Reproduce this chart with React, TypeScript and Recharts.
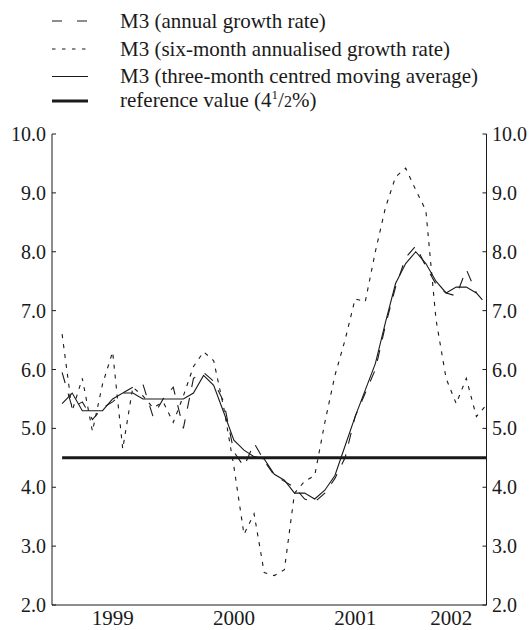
import React from "react";
import { LineChart, Line, XAxis, YAxis, ReferenceLine } from "recharts";

const FONT = '"Liberation Serif", "Times New Roman", serif';
const INK = "#1a1a1a";

// Jan 1999 - Jul 2002, one entry per month
const months = [
  "1999-01", "1999-02", "1999-03", "1999-04", "1999-05", "1999-06",
  "1999-07", "1999-08", "1999-09", "1999-10", "1999-11", "1999-12",
  "2000-01", "2000-02", "2000-03", "2000-04", "2000-05", "2000-06",
  "2000-07", "2000-08", "2000-09", "2000-10", "2000-11", "2000-12",
  "2001-01", "2001-02", "2001-03", "2001-04", "2001-05", "2001-06",
  "2001-07", "2001-08", "2001-09", "2001-10", "2001-11", "2001-12",
  "2002-01", "2002-02", "2002-03", "2002-04", "2002-05", "2002-06",
  "2002-07",
];

const annualGrowth = [
  5.95, 5.35, 5.45, 5.15, 5.35, 5.45, 5.6, 5.7, 5.75, 5.2, 5.5, 5.7,
  5.0, 5.85, 5.95, 5.8, 5.45, 4.6, 4.35, 4.75, 4.45, 4.2, 4.1, 4.0,
  3.8, 3.75, 3.9, 4.15, 4.5, 5.2, 5.6, 6.0, 6.75, 7.4, 7.9, 8.1,
  7.75, 7.45, 7.3, 7.25, 7.7, 7.3, 7.1,
];

const sixMonthAnnualised = [
  6.6, 5.3, 5.85, 4.95, 5.75, 6.3, 4.65, 5.7, 5.55, 5.35, 5.45, 5.1,
  5.55, 6.05, 6.3, 6.15, 5.35, 4.35, 3.2, 3.55, 2.55, 2.5, 2.6, 3.9,
  4.1, 4.2, 5.1, 5.9, 6.5, 7.2, 7.15, 8.0, 8.75, 9.27, 9.42, 9.05,
  8.7, 6.85, 5.85, 5.42, 5.85, 5.2, 5.4,
];

// centred average stops one month before the last observation
const threeMonthAverage = [
  5.42, 5.6, 5.3, 5.3, 5.3, 5.5, 5.6, 5.6, 5.5, 5.5, 5.5, 5.5,
  5.5, 5.6, 5.9, 5.73, 5.27, 4.8, 4.63, 4.52, 4.48, 4.22, 4.12, 3.9,
  3.9, 3.8, 3.95, 4.2, 4.7, 5.2, 5.65, 6.1, 6.8, 7.46, 7.8, 8.0,
  7.8, 7.5, 7.3, 7.4, 7.4, 7.3,
];

const referenceValue = 4.5;

const quarterTicks = [0, 3, 6, 9, 12, 15, 18, 21, 24, 27, 30, 33, 36, 39, 42];
const yearLabels = ["1999", "2000", "2001", "2002"];
const yearLabelAt = [6, 18, 30, 39.5];
const yTicks = [2, 3, 4, 5, 6, 7, 8, 9, 10];

const data = months.map((m, i) => ({
  month: m,
  t: i + 1,
  annual: annualGrowth[i],
  sixMonth: sixMonthAnnualised[i],
  avg: i < threeMonthAverage.length ? threeMonthAverage[i] : null,
}));

const legendRows = [
  { label: "M3 (annual growth rate)", dash: "10 15", width: 1.1, lineY: 21, textY: 28 },
  { label: "M3 (six-month annualised growth rate)", dash: "3.5 6.5", width: 1.1, lineY: 49, textY: 55.5 },
  { label: "M3 (three-month centred moving average)", dash: undefined, width: 1.1, lineY: 76.5, textY: 82.5 },
  { label: null, dash: undefined, width: 3, lineY: 101, textY: 106.5 },
];

const Legend = () => (
  <svg width={530} height={118} style={{ position: "absolute", left: 0, top: 0 }}>
    {legendRows.map((row, i) => (
      <g key={i}>
        <line
          x1={52}
          x2={88}
          y1={row.lineY}
          y2={row.lineY}
          stroke={INK}
          strokeWidth={row.width}
          strokeDasharray={row.dash}
        />
        <text x={120} y={row.textY} fontFamily={FONT} fontSize={21} fill={INK}>
          {row.label ?? (
            <>
              reference value (4
              <tspan fontSize={13} dy={-8}>1</tspan>
              <tspan dy={8}>/</tspan>
              <tspan fontSize={16}>2</tspan>
              %)
            </>
          )}
        </text>
      </g>
    ))}
  </svg>
);

const tickStyle = { fontFamily: FONT, fontSize: 20, fill: INK };

export default function App() {
  return (
    <div style={{ position: "absolute", left: 0, top: 0, width: 530, height: 630, background: "#fff" }}>
      <LineChart
        width={530}
        height={630}
        data={data}
        margin={{ top: 134, right: 0, bottom: 0, left: 0 }}
      >
        <XAxis
          xAxisId="q"
          dataKey="t"
          type="number"
          domain={[0, 43]}
          ticks={quarterTicks}
          interval={0}
          tick={false}
          tickSize={-5}
          height={1}
          stroke={INK}
        />
        <XAxis
          xAxisId="yr"
          dataKey="t"
          type="number"
          domain={[0, 43]}
          ticks={yearLabelAt}
          interval={0}
          tickFormatter={(v: number) => yearLabels[yearLabelAt.indexOf(v)]}
          axisLine={false}
          tickLine={false}
          tickSize={4}
          tickMargin={0}
          height={24}
          tick={{ fontFamily: FONT, fontSize: 21, fill: INK }}
        />
        <YAxis
          yAxisId="l"
          orientation="left"
          width={52}
          domain={[2, 10]}
          ticks={yTicks}
          interval={0}
          tickFormatter={(v: number) => v.toFixed(1)}
          tickSize={-4}
          tickMargin={10}
          stroke={INK}
          tick={tickStyle}
        />
        <YAxis
          yAxisId="r"
          orientation="right"
          width={43.5}
          domain={[2, 10]}
          ticks={yTicks}
          interval={0}
          tickFormatter={(v: number) => v.toFixed(1)}
          tickSize={-4}
          tickMargin={9.5}
          stroke={INK}
          tick={tickStyle}
        />
        <ReferenceLine
          xAxisId="q"
          yAxisId="l"
          segment={[
            { x: 1, y: referenceValue },
            { x: 43, y: referenceValue },
          ]}
          stroke={INK}
          strokeWidth={3}
        />
        <Line
          xAxisId="q"
          yAxisId="l"
          dataKey="sixMonth"
          type="linear"
          stroke={INK}
          strokeWidth={1.1}
          strokeDasharray="4 6"
          dot={false}
          isAnimationActive={false}
        />
        <Line
          xAxisId="q"
          yAxisId="r"
          dataKey="annual"
          type="linear"
          stroke={INK}
          strokeWidth={1.1}
          strokeDasharray="11 11"
          dot={false}
          isAnimationActive={false}
        />
        <Line
          xAxisId="q"
          yAxisId="l"
          dataKey="avg"
          type="linear"
          stroke={INK}
          strokeWidth={1.1}
          dot={false}
          isAnimationActive={false}
        />
      </LineChart>
      <Legend />
    </div>
  );
}
